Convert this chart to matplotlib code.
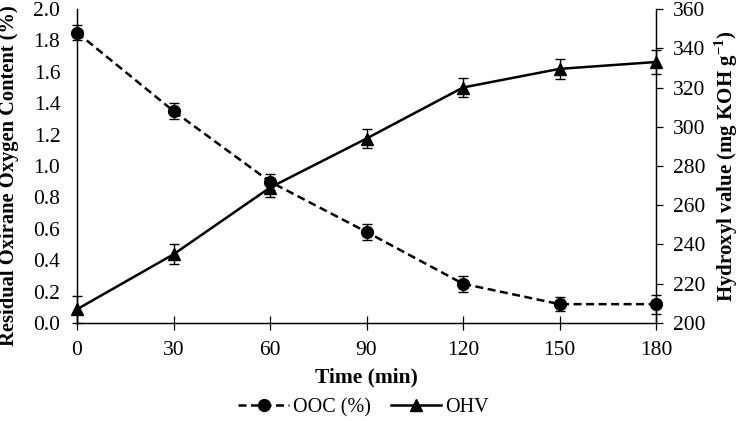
import matplotlib
matplotlib.use("Agg")
import matplotlib.pyplot as plt
from matplotlib.lines import Line2D

time_min = [0, 30, 60, 90, 120, 150, 180]
ooc = [1.85, 1.35, 0.90, 0.58, 0.25, 0.12, 0.12]
ooc_err = [0.05, 0.05, 0.05, 0.05, 0.05, 0.045, 0.06]
ohv = [207, 235, 269, 294, 320, 329.5, 333]
ohv_err = [7, 5, 5, 5, 5, 5, 6]
x_ticks = [0, 30, 60, 90, 120, 150, 180]
left_ticks = [0.0, 0.2, 0.4, 0.6, 0.8, 1.0, 1.2, 1.4, 1.6, 1.8, 2.0]
right_ticks = [200, 220, 240, 260, 280, 300, 320, 340, 360]

plt.rcParams['font.family'] = ['Liberation Serif', 'DejaVu Serif']
plt.rcParams['mathtext.fontset'] = 'custom'
plt.rcParams['mathtext.rm'] = 'Liberation Serif'
plt.rcParams['mathtext.bf'] = 'Liberation Serif:bold'

FS = 15.5

fig = plt.figure(figsize=(7.42, 4.21), dpi=100)
ax = fig.add_axes([0.1038, 0.2328, 0.7803, 0.7458])
ax2 = ax.twinx()

dash = (0, (3.2, 1.8))
ax.errorbar(time_min, ooc, yerr=ooc_err, color='black', lw=1.8,
            linestyle=dash, marker='o', markersize=8.5,
            ecolor='black', elinewidth=1.0, capsize=3.5, capthick=1.0,
            clip_on=False, zorder=3)
ax2.errorbar(time_min, ohv, yerr=ohv_err, color='black', lw=1.8,
             linestyle='-', marker='^', markersize=9,
             ecolor='black', elinewidth=1.0, capsize=3.5, capthick=1.0,
             clip_on=False, zorder=3)

ax.set_xlim(0, 180)
ax.set_ylim(0, 2.0)
ax2.set_ylim(200, 360)
ax.set_xticks(x_ticks)
ax.set_yticks(left_ticks)
ax.set_yticklabels([f"{v:.1f}" for v in left_ticks])
ax2.set_yticks(right_ticks)

for a in (ax, ax2):
    a.spines['top'].set_visible(False)
    for s in a.spines.values():
        s.set_linewidth(0.9)
ax.tick_params(axis='x', direction='inout', length=10, width=0.9, pad=8, labelsize=FS)
ax.tick_params(axis='y', length=0, pad=12, labelsize=FS)
ax2.tick_params(axis='y', direction='out', length=5, width=0.9, pad=7, labelsize=FS)

ax.set_xlabel('Time (min)', fontsize=FS, fontweight='bold', labelpad=5)
ax.set_ylabel('Residual Oxirane Oxygen Content (%)', fontsize=14.8, fontweight='bold')
ax.yaxis.set_label_coords(-0.1, 0.47)
ax2.set_ylabel(r'Hydroxyl value (mg KOH g$^{\mathbf{-1}}$)', fontsize=15, fontweight='bold', labelpad=5)

h1 = Line2D([], [], color='black', lw=1.8, linestyle=dash, marker='o', markersize=8.5)
h2 = Line2D([], [], color='black', lw=1.8, linestyle='-', marker='^', markersize=9)
fig.legend([h1, h2], ['OOC (%)', 'OHV'], loc='center', bbox_to_anchor=(0.49, 0.032),
           ncol=2, frameon=False, fontsize=14.5, handlelength=2.5, handletextpad=0.2,
           columnspacing=1.0)

fig.savefig('out.png', dpi=100)
